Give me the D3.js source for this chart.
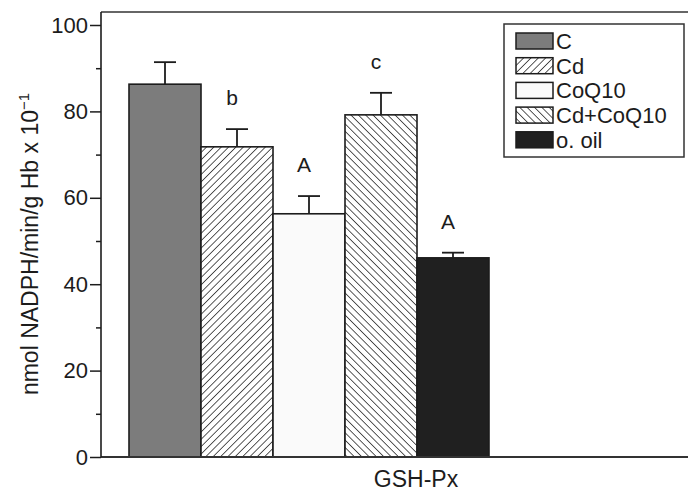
<!DOCTYPE html>
<html>
<head>
<meta charset="utf-8">
<script src="https://cdn.jsdelivr.net/npm/d3@7"></script>
<style>
  html, body { margin: 0; padding: 0; background: #fff; }
  svg { display: block; font-family: "Liberation Sans", Arial, Helvetica, sans-serif; }
</style>
</head>
<body>
<svg id="chart" width="688" height="494"></svg>
<script>
// Groups, means and upward SD for GSH-Px activity
const groups = ["C", "Cd", "CoQ10", "Cd+CoQ10", "o. oil"];
const means = [86.3, 71.8, 56.3, 79.2, 46.1];
const errors = [5.1, 4.1, 4.1, 5.1, 1.2];
const sigLabels = ["", "b", "A", "c", "A"];
const yTicks = [0, 20, 40, 60, 80, 100];
const yMinorTicks = [10, 30, 50, 70, 90];
const xTitle = "GSH-Px";

const svg = d3.select("#chart");
const ink = "#1c1c1c";

// Plot frame
const frame = { left: 101, top: 12, right: 688, bottom: 457 };
const y = d3.scaleLinear().domain([0, 100]).range([457, 25]);
const x = d3.scaleBand().domain(groups).range([129, 489]).padding(0);

// Fill patterns
const defs = svg.append("defs");
function hatch(id, angle) {
  const p = defs.append("pattern")
    .attr("id", id)
    .attr("patternUnits", "userSpaceOnUse")
    .attr("width", 5.2).attr("height", 5.2)
    .attr("patternTransform", `rotate(${angle})`);
  p.append("rect").attr("width", 5.2).attr("height", 5.2).attr("fill", "#fff");
  p.append("line").attr("x1", 0).attr("y1", 0).attr("x2", 0).attr("y2", 5.2)
    .attr("stroke", "#222").attr("stroke-width", 1.5);
}
hatch("hatchFwd", 45);
hatch("hatchBack", -45);

const fills = {
  "C": "#7c7c7c",
  "Cd": "url(#hatchFwd)",
  "CoQ10": "#fafafa",
  "Cd+CoQ10": "url(#hatchBack)",
  "o. oil": "#202020"
};

// Bars
svg.append("g").selectAll("rect")
  .data(groups)
  .join("rect")
  .attr("x", d => x(d))
  .attr("y", (d, i) => y(means[i]))
  .attr("width", x.bandwidth())
  .attr("height", (d, i) => y(0) - y(means[i]))
  .attr("fill", d => fills[d])
  .attr("stroke", ink)
  .attr("stroke-width", 1.6);

// Error bars (upper only)
const eb = svg.append("g").attr("stroke", ink).attr("stroke-width", 1.8);
groups.forEach((g, i) => {
  const cx = x(g) + x.bandwidth() / 2;
  eb.append("line").attr("x1", cx).attr("x2", cx)
    .attr("y1", y(means[i])).attr("y2", y(means[i] + errors[i]));
  eb.append("line").attr("x1", cx - 11).attr("x2", cx + 11)
    .attr("y1", y(means[i] + errors[i])).attr("y2", y(means[i] + errors[i]));
});

// Significance letters
svg.append("g").selectAll("text")
  .data(groups)
  .join("text")
  .attr("x", d => x(d) + x.bandwidth() / 2 - 5)
  .attr("y", (d, i) => y(means[i] + errors[i]) - 24)
  .attr("text-anchor", "middle")
  .attr("font-size", 21)
  .attr("fill", ink)
  .text((d, i) => sigLabels[i]);

// Frame lines: top and bottom
svg.append("line").attr("x1", frame.left).attr("x2", frame.right)
  .attr("y1", frame.top).attr("y2", frame.top)
  .attr("stroke", "#333").attr("stroke-width", 1.4);
svg.append("line").attr("x1", frame.left).attr("x2", frame.right)
  .attr("y1", frame.bottom).attr("y2", frame.bottom)
  .attr("stroke", "#333").attr("stroke-width", 1.8);

// Y axis
const yAxis = d3.axisLeft(y).tickValues(yTicks).tickSize(11).tickPadding(2).tickFormat(d3.format("d"));
const ya = svg.append("g").attr("transform", `translate(${frame.left},0)`).call(yAxis);
ya.select(".domain").remove();
ya.selectAll(".tick line").attr("stroke", ink).attr("stroke-width", 1.5);
ya.selectAll(".tick text").attr("font-size", 22).attr("fill", ink)
  .attr("font-family", "Liberation Sans, Arial, sans-serif");
svg.append("line").attr("x1", frame.left).attr("x2", frame.left)
  .attr("y1", frame.top).attr("y2", frame.bottom)
  .attr("stroke", ink).attr("stroke-width", 1.6);
const yMinor = d3.axisLeft(y).tickValues(yMinorTicks).tickSize(5).tickFormat("");
const ym = svg.append("g").attr("transform", `translate(${frame.left},0)`).call(yMinor);
ym.select(".domain").remove();
ym.selectAll(".tick line").attr("stroke", ink).attr("stroke-width", 1.5);

// Axis titles
svg.append("text")
  .attr("x", 416).attr("y", 487)
  .attr("text-anchor", "middle")
  .attr("font-size", 23)
  .attr("fill", ink)
  .text(xTitle);

const yt = svg.append("text")
  .attr("transform", "translate(38,244) rotate(-90)")
  .attr("text-anchor", "middle")
  .attr("font-size", 23)
  .attr("fill", ink);
yt.append("tspan").text("nmol NADPH/min/g Hb x 10");
yt.append("tspan").attr("dy", -9).attr("font-size", 15).text("\u22121");

// Legend
const lg = svg.append("g");
lg.append("rect").attr("x", 504).attr("y", 24).attr("width", 180).attr("height", 133)
  .attr("fill", "#fff").attr("stroke", "#333").attr("stroke-width", 1.5);
groups.forEach((g, i) => {
  const base = 49 + i * 24.7;
  lg.append("rect").attr("x", 516).attr("y", base - 16).attr("width", 37).attr("height", 16)
    .attr("fill", fills[g]).attr("stroke", ink).attr("stroke-width", 1.5);
  lg.append("text").attr("x", 556).attr("y", base)
    .attr("font-size", 22).attr("fill", ink).text(g);
});
</script>
</body>
</html>
